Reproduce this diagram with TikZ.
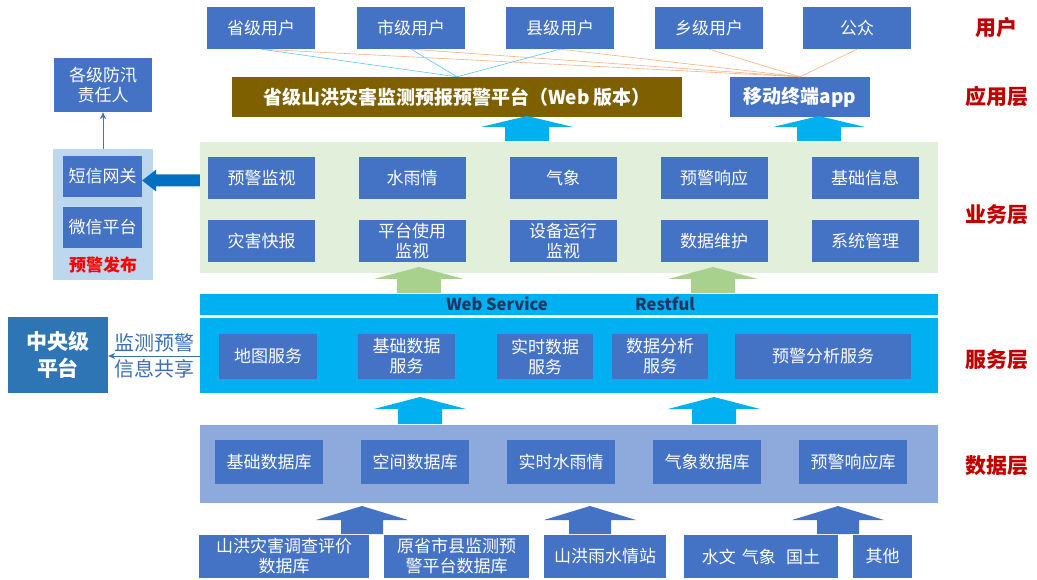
\documentclass[tikz,border=0pt]{standalone}
\usepackage{fontspec}
\setmainfont{Noto Sans CJK SC}
\usetikzlibrary{calc,arrows.meta}
\definecolor{boxblue}{HTML}{4472C4}
\definecolor{svccyan}{HTML}{00B0F0}
\definecolor{databg}{HTML}{8EA9DB}
\definecolor{bizbg}{HTML}{E2EFDA}
\definecolor{greenarr}{HTML}{A9D18E}
\definecolor{brownbox}{HTML}{7F6000}
\definecolor{navytext}{HTML}{203864}
\definecolor{layerred}{HTML}{C00000}
\definecolor{pubred}{HTML}{FF0000}
\definecolor{panelblue}{HTML}{BDD7EE}
\definecolor{centralblue}{HTML}{2E75B6}
\definecolor{thickblue}{HTML}{0070C0}
\definecolor{linecyan}{HTML}{5BC8E8}
\definecolor{lineorange}{HTML}{F4B183}
\definecolor{sharetext}{HTML}{3A6FB5}
\newcommand{\blkup}[7]{\fill[#1] (#2-#5,#3) -- (#2-#5,#4+#7) -- (#2-#6,#4+#7) -- (#2,#4) -- (#2+#6,#4+#7) -- (#2+#5,#4+#7) -- (#2+#5,#3) -- cycle;}
\tikzset{
  bx/.style={fill=boxblue, text=white, inner sep=0pt, align=center,
    font=\fontsize{17}{20}\selectfont},
  layerlbl/.style={text=layerred, font=\fontsize{21}{24}\selectfont\bfseries},
  appbox/.style={text=white, inner sep=0pt, minimum height=40pt,
    font=\fontsize{19}{22}\selectfont\bfseries},
  bgpanel/.style={inner sep=0pt, draw=none},
  userline/.style={line width=0.6pt},
}
\begin{document}
\begin{tikzpicture}[x=1pt,y=-1pt]
\useasboundingbox (0,0) rectangle (1037,580);
% ---------- users
\foreach \n/\cx/\t in {u1/261/省级用户,u2/411/市级用户,u3/560/县级用户,u4/709/乡级用户,u5/857/公众}
  \node[bx, minimum width=108pt, minimum height=42pt] (\n) at (\cx,28) {\t};
% ---------- application layer
\node[appbox, fill=brownbox, minimum width=450pt] (web) at (457,97) {省级山洪灾害监测预报预警平台（Web 版本）};
\node[appbox, fill=boxblue, minimum width=140pt] (app) at (800,97) {移动终端app};
% user lines
\foreach \u in {u1,u2,u3} \draw[userline, linecyan] (\u.south) -- (web.north);
\foreach \u in {u1,u2,u3,u4,u5} \draw[userline, lineorange] (\u.south) -- (app.north);
% ---------- business layer
\node[bgpanel, fill=bizbg, minimum width=738pt, minimum height=131pt] (biz) at (569,207.5) {};
\foreach \n/\cx/\cy/\t in {
  b1/261.5/178/预警监视, b2/412/178/水雨情, b3/563/178/气象, b4/714/178/预警响应, b5/865/178/基础信息,
  b6/261.5/241.5/灾害快报, b7/412/241.5/{平台使用\\监视}, b8/563/241.5/{设备运行\\监视}, b9/714/241.5/数据维护, b10/865/241.5/系统管理}
  \node[bx, minimum width=107pt, minimum height=42pt] (\n) at (\cx,\cy) {\t};
% arrows to app layer
\blkup{svccyan}{527}{141}{116}{22}{46}{11}
\blkup{svccyan}{819}{141}{116}{22}{46}{11}
% ---------- left warning publication
\node[bx, minimum width=98pt, minimum height=54pt] (duty) at (103,85) {各级防汛\\责任人};
\node[bgpanel, fill=panelblue, minimum width=100pt, minimum height=131pt] (pub) at (103,214.5) {};
\node[bx, minimum width=79pt, minimum height=41pt] (sms) at (102.5,176.5) {短信网关};
\node[bx, minimum width=79pt, minimum height=41pt] (wechat) at (102.5,227.5) {微信平台};
\node[text=pubred, font=\fontsize{17}{20}\selectfont\bfseries, inner sep=0pt] (publbl) at (103,265) {预警发布};
\draw[boxblue, line width=1pt, -{Stealth[length=7pt,width=6pt]}] (pub.north -| duty.south) -- (duty.south);
\fill[thickblue] ($(sms.east)+(0,4)$) -- ($(sms.east)+(14,-7)$) -- ($(sms.east)+(14,-2)$) -- ($(biz.west |- sms.east)+(0,-2)$) -- ($(biz.west |- sms.east)+(0,10)$) -- ($(sms.east)+(14,10)$) -- ($(sms.east)+(14,15)$) -- cycle;
% green arrows
\blkup{greenarr}{419}{293}{267}{22}{45}{12}
\blkup{greenarr}{713}{293}{267}{22}{45}{12}
% ---------- service layer
\node[bgpanel, fill=svccyan, minimum width=738pt, minimum height=21pt] (hdr) at (569,304.5) {};
\node[text=navytext, font=\fontsize{16.5}{19}\selectfont\bfseries, inner sep=0pt] (ws) at (497,304) {Web Service};
\node[text=navytext, font=\fontsize{16.5}{19}\selectfont\bfseries, inner sep=0pt] (rest) at (665,304) {Restful};
\node[bgpanel, fill=svccyan, minimum width=738pt, minimum height=75pt] (svc) at (569,355.5) {};
\foreach \n/\cx/\w/\t in {s1/268/98/地图服务, s2/406.5/97/{基础数据\\服务}, s3/545/96/{实时数据\\服务}, s4/660/96/{数据分析\\服务}, s5/823/176/预警分析服务}
  \node[bx, minimum width=\w pt, minimum height=44pt] (\n) at (\cx,356.5) {\t};
\node[fill=centralblue, text=white, inner sep=0pt, align=center, minimum width=100pt, minimum height=76pt,
  font=\fontsize{21}{27}\selectfont\bfseries] (central) at (58,355) {中央级\\平台};
\draw[sharetext, line width=1pt, -{Stealth[length=7pt,width=6pt]}] (svc.west |- 0,356) -- (central.east |- 0,356);
\node[text=sharetext, font=\fontsize{20}{24}\selectfont, inner sep=0pt] (sh1) at (154,343) {监测预警};
\node[text=sharetext, font=\fontsize{20}{24}\selectfont, inner sep=0pt] (sh2) at (154,369) {信息共享};
% arrows service <- data
\blkup{svccyan}{420}{424}{397}{22}{46}{12}
\blkup{svccyan}{714}{424}{397}{22}{46}{12}
% ---------- data layer
\node[bgpanel, fill=databg, minimum width=738pt, minimum height=78pt] (data) at (569,464) {};
\foreach \n/\cx/\t in {d1/269/基础数据库, d2/415/空间数据库, d3/561/实时水雨情, d4/707/气象数据库, d5/853/预警响应库}
  \node[bx, minimum width=108pt, minimum height=44pt] (\n) at (\cx,462) {\t};
% bottom arrows
\blkup{boxblue}{362}{534}{506}{21}{46}{14}
\blkup{boxblue}{590}{534}{506}{21}{46}{14}
\blkup{boxblue}{838}{534}{506}{21}{46}{14}
% ---------- sources
\foreach \n/\cx/\w/\t in {r1/284/170/{山洪灾害调查评价\\数据库}, r2/456.5/145/{原省市县监测预\\警平台数据库}, r3/605/122/山洪雨水情站, r4/761/154/{水文\hspace{0.35em}气象\hspace{0.6em}国土}, r5/882.5/59/其他}
  \node[bx, minimum width=\w pt, minimum height=43pt] (\n) at (\cx,556.5) {\t};
% ---------- layer labels
\node[layerlbl] (l1) at (996,28) {用户};
\node[layerlbl] (l2) at (997,97) {应用层};
\node[layerlbl] (l3) at (997,215) {业务层};
\node[layerlbl] (l4) at (997,360) {服务层};
\node[layerlbl] (l5) at (997,466) {数据层};
\end{tikzpicture}
\end{document}
